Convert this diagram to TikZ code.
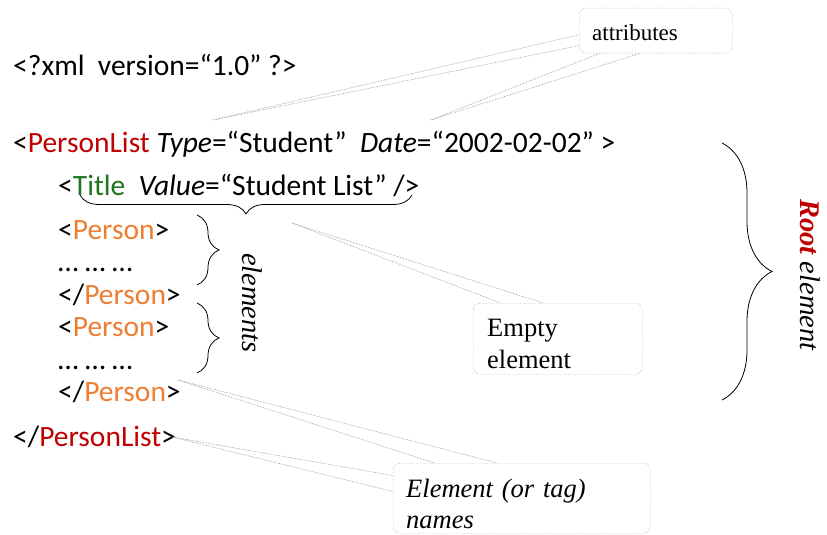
\documentclass[tikz,border=0pt]{standalone}
\usepackage{fontspec}
\setmainfont{Liberation Serif}
\newfontfamily\xmlfont{Carlito}
\usetikzlibrary{decorations.pathreplacing,positioning}

\definecolor{tagred}{RGB}{192,0,0}
\definecolor{taggreen}{RGB}{30,118,30}
\definecolor{tagorange}{RGB}{237,125,49}
\definecolor{callgray}{RGB}{135,135,135}

\newcommand{\tagname}[2]{\textcolor{#1}{#2}}
\newcommand{\boxstrut}[1]{\rule{0pt}{#1}}

\begin{document}
\begin{tikzpicture}[
  x=1pt, y=-1pt,
  code/.style={anchor=base west, inner sep=0pt, font=\xmlfont\fontsize{29.5}{34}\selectfont},
  callout/.style={draw=callgray, densely dotted, rounded corners=7pt, align=left, anchor=north west, inner sep=0pt},
  pointer/.style={draw=callgray, densely dotted, line width=0.6pt},
  curly/.style={decorate, decoration={brace, amplitude=#1}, line width=0.8pt},
  sidelabel/.style={rotate=-90, font=\fontsize{28.5}{34}\selectfont\itshape}
]
\useasboundingbox (0,0) rectangle (827,535);

% xml text
\node[code] (decl) at (13,75) {<?xml\ \ version=“1.0” ?>};
\node[code] (plopen) at (13,152) {<\tagname{tagred}{PersonList} \textit{Type}=“Student”\ \ \textit{Date}=“2002-02-02” >};
\node[code] (title) at (58,195) {<\tagname{taggreen}{Title}\ \ \textit{Value}=“Student List” />};
\node[code] (p1open) at (58,239) {<\tagname{tagorange}{Person}>};
\node[code] (p1dots) at (58,271.5) {… … …};
\node[code] (p1close) at (58,304) {</\tagname{tagorange}{Person}>};
\node[code] (p2open) at (58,336.5) {<\tagname{tagorange}{Person}>};
\node[code] (p2dots) at (58,369) {… … …};
\node[code] (p2close) at (58,401.5) {</\tagname{tagorange}{Person}>};
\node[code] (plclose) at (13,446) {</\tagname{tagred}{PersonList}>};

% braces
\draw[curly=19pt] (412,195) -- (80,195);
\draw[curly=22pt] (197,215) -- (197,285);
\draw[curly=22pt] (197,303) -- (197,373);
\draw[curly=50pt] (722,143) -- (722,400);

\node[sidelabel] (elems) at (252,303) {elements};
\node[sidelabel] (root) at (810,275) {\textcolor{tagred}{\bfseries Root} element};

% callouts
\node[callout, minimum width=153pt, minimum height=45pt, text width=127pt,
  font=\fontsize{23}{28}\selectfont] (attr) at (579,8) {\boxstrut{20pt}attributes};
\node[callout, minimum width=169pt, minimum height=71pt, text width=141pt,
  font=\fontsize{26.5}{32}\selectfont] (empty) at (473,303) {\boxstrut{28pt}Empty\\element};
\node[callout, minimum width=257pt, minimum height=70pt, text width=231pt,
  font=\fontsize{26.5}{31}\selectfont\itshape] (names) at (393,463) {\boxstrut{30pt}Element (or tag)\\names};

\coordinate (typetip) at (213,120);
\coordinate (datetip) at (431,120);
\coordinate (titletip) at (292,223);
\coordinate (persontip) at (178,380);
\coordinate (listtip) at (172,437);

\draw[pointer] (typetip) -- (attr.183);
\draw[pointer] (typetip) -- (attr.191);
\draw[pointer] (datetip) -- (attr.202);
\draw[pointer] (datetip) -- (attr.235);
\draw[pointer] (titletip) -- (empty.148);
\draw[pointer] (titletip) -- (empty.112);
\draw[pointer] (persontip) -- (names.158);
\draw[pointer] (persontip) -- (names.125);
\draw[pointer] (listtip) -- (names.170);
\draw[pointer] (listtip) -- (names.177);
\end{tikzpicture}
\end{document}
